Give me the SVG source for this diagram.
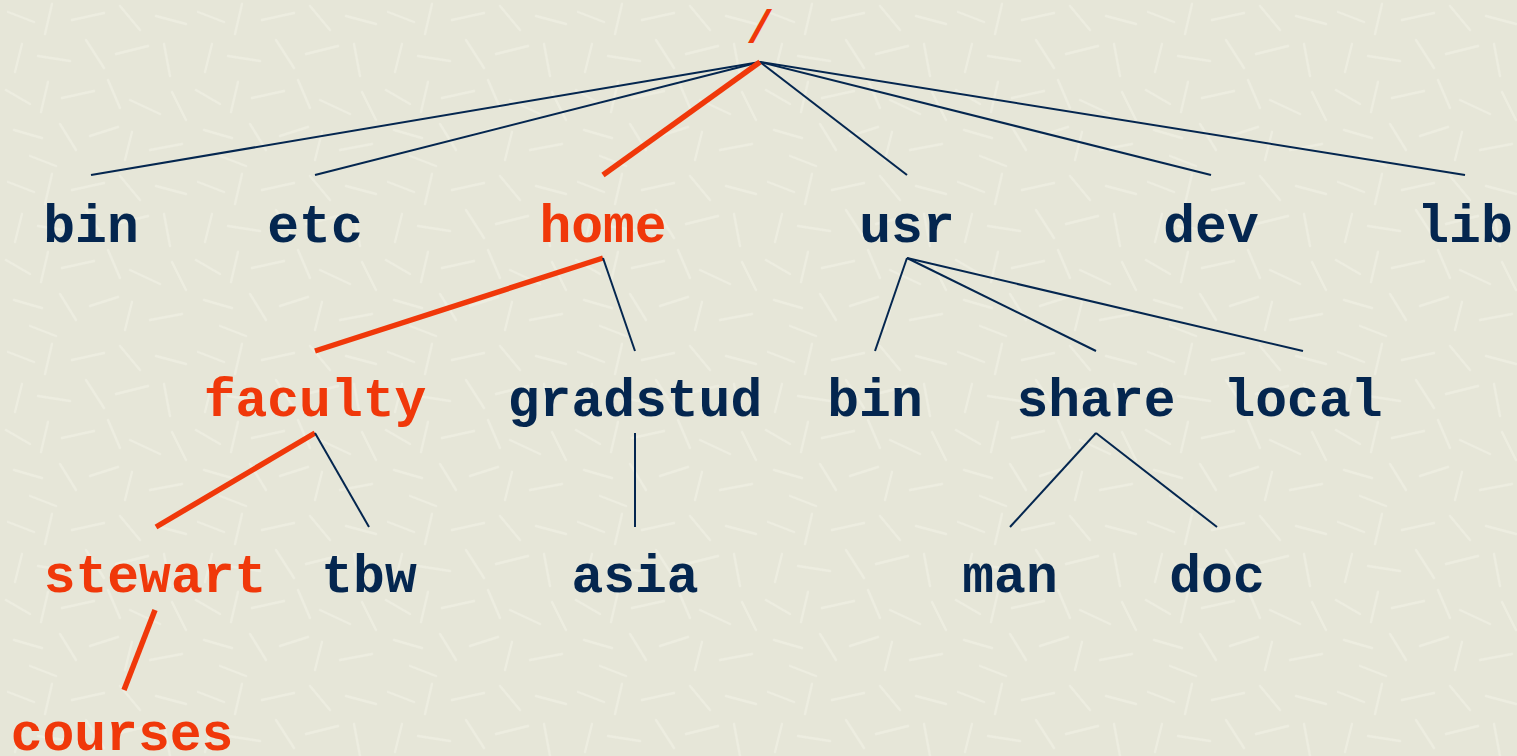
<svg xmlns="http://www.w3.org/2000/svg" width="1517" height="756" viewBox="0 0 1517 756">
  <defs>
    <style>
      .lbl { font-family: "Liberation Mono", "DejaVu Sans Mono", monospace; font-weight: bold; font-size: 53px; text-anchor: middle; }
      .dir { fill: #04264f; }
      .path { fill: #f0380a; }
      .edge { stroke: #04264f; stroke-width: 2; fill: none; }
      .edge-hl { stroke: #f0380a; stroke-width: 5.5; fill: none; }
      .fleck { stroke: #f1f1e6; stroke-width: 2.4; stroke-linecap: round; opacity: 0.6; }
    </style>
    <!-- paper texture: short pale strokes on a light stone base -->
    <pattern id="paper" width="190" height="170" patternUnits="userSpaceOnUse">
      <rect width="190" height="170" fill="#e6e6d8"/>
      <g class="fleck">
        <line x1="8" y1="12" x2="34" y2="22"/>
        <line x1="52" y1="4" x2="45" y2="34"/>
        <line x1="72" y1="20" x2="104" y2="13"/>
        <line x1="120" y1="6" x2="140" y2="30"/>
        <line x1="156" y1="16" x2="186" y2="24"/>
        <line x1="22" y1="44" x2="15" y2="72"/>
        <line x1="38" y1="56" x2="70" y2="61"/>
        <line x1="86" y1="40" x2="104" y2="68"/>
        <line x1="116" y1="54" x2="148" y2="46"/>
        <line x1="164" y1="44" x2="170" y2="76"/>
        <line x1="6" y1="90" x2="30" y2="104"/>
        <line x1="48" y1="82" x2="41" y2="112"/>
        <line x1="62" y1="98" x2="94" y2="91"/>
        <line x1="108" y1="80" x2="120" y2="108"/>
        <line x1="130" y1="100" x2="160" y2="114"/>
        <line x1="172" y1="92" x2="186" y2="120"/>
        <line x1="14" y1="130" x2="42" y2="138"/>
        <line x1="60" y1="124" x2="76" y2="150"/>
        <line x1="90" y1="136" x2="118" y2="127"/>
        <line x1="132" y1="132" x2="125" y2="160"/>
        <line x1="150" y1="150" x2="182" y2="144"/>
        <line x1="30" y1="156" x2="56" y2="166"/>
      </g>
    </pattern>
  </defs>

  <rect width="1517" height="756" fill="url(#paper)"/>

  <!-- tree edges -->
  <g id="connectors">
    <line class="edge" x1="760" y1="62" x2="91" y2="175"/>
    <line class="edge" x1="760" y1="62" x2="315" y2="175"/>
    <line class="edge" x1="760" y1="62" x2="907" y2="175"/>
    <line class="edge" x1="760" y1="62" x2="1211" y2="175"/>
    <line class="edge" x1="760" y1="62" x2="1465" y2="175"/>
    <line class="edge-hl" x1="760" y1="62" x2="603" y2="175"/>

    <line class="edge-hl" x1="603" y1="258" x2="315" y2="351"/>
    <line class="edge" x1="603" y1="258" x2="635" y2="351"/>

    <line class="edge" x1="907" y1="258" x2="875" y2="351"/>
    <line class="edge" x1="907" y1="258" x2="1096" y2="351"/>
    <line class="edge" x1="907" y1="258" x2="1303" y2="351"/>

    <line class="edge-hl" x1="315" y1="433" x2="156" y2="527"/>
    <line class="edge" x1="315" y1="433" x2="369" y2="527"/>

    <line class="edge" x1="635" y1="433" x2="635" y2="527"/>

    <line class="edge" x1="1096" y1="433" x2="1010" y2="527"/>
    <line class="edge" x1="1096" y1="433" x2="1217" y2="527"/>

    <line class="edge-hl" x1="155" y1="610" x2="124" y2="690"/>
  </g>

  <!-- root -->
  <g id="root"><text class="lbl path" x="760" y="43" style="font-size:47px">/</text></g>

  <!-- first level -->
  <g id="bin"><text class="lbl dir" x="91" y="242">bin</text></g>
  <g id="etc"><text class="lbl dir" x="315" y="242">etc</text></g>
  <g id="home"><text class="lbl path" x="603" y="242">home</text></g>
  <g id="usr"><text class="lbl dir" x="907" y="242">usr</text></g>
  <g id="dev"><text class="lbl dir" x="1211" y="242">dev</text></g>
  <g id="lib"><text class="lbl dir" x="1465" y="242">lib</text></g>

  <!-- second level -->
  <g id="faculty"><text class="lbl path" x="315" y="416">faculty</text></g>
  <g id="gradstud"><text class="lbl dir" x="635" y="416">gradstud</text></g>
  <g id="usr-bin"><text class="lbl dir" x="875" y="416">bin</text></g>
  <g id="share"><text class="lbl dir" x="1096" y="416">share</text></g>
  <g id="local"><text class="lbl dir" x="1303" y="416">local</text></g>

  <!-- third level -->
  <g id="stewart"><text class="lbl path" x="155" y="592">stewart</text></g>
  <g id="tbw"><text class="lbl dir" x="369" y="592">tbw</text></g>
  <g id="asia"><text class="lbl dir" x="635" y="592">asia</text></g>
  <g id="man"><text class="lbl dir" x="1010" y="592">man</text></g>
  <g id="doc"><text class="lbl dir" x="1217" y="592">doc</text></g>

  <!-- fourth level -->
  <g id="courses"><text class="lbl path" x="122" y="750">courses</text></g>
</svg>
